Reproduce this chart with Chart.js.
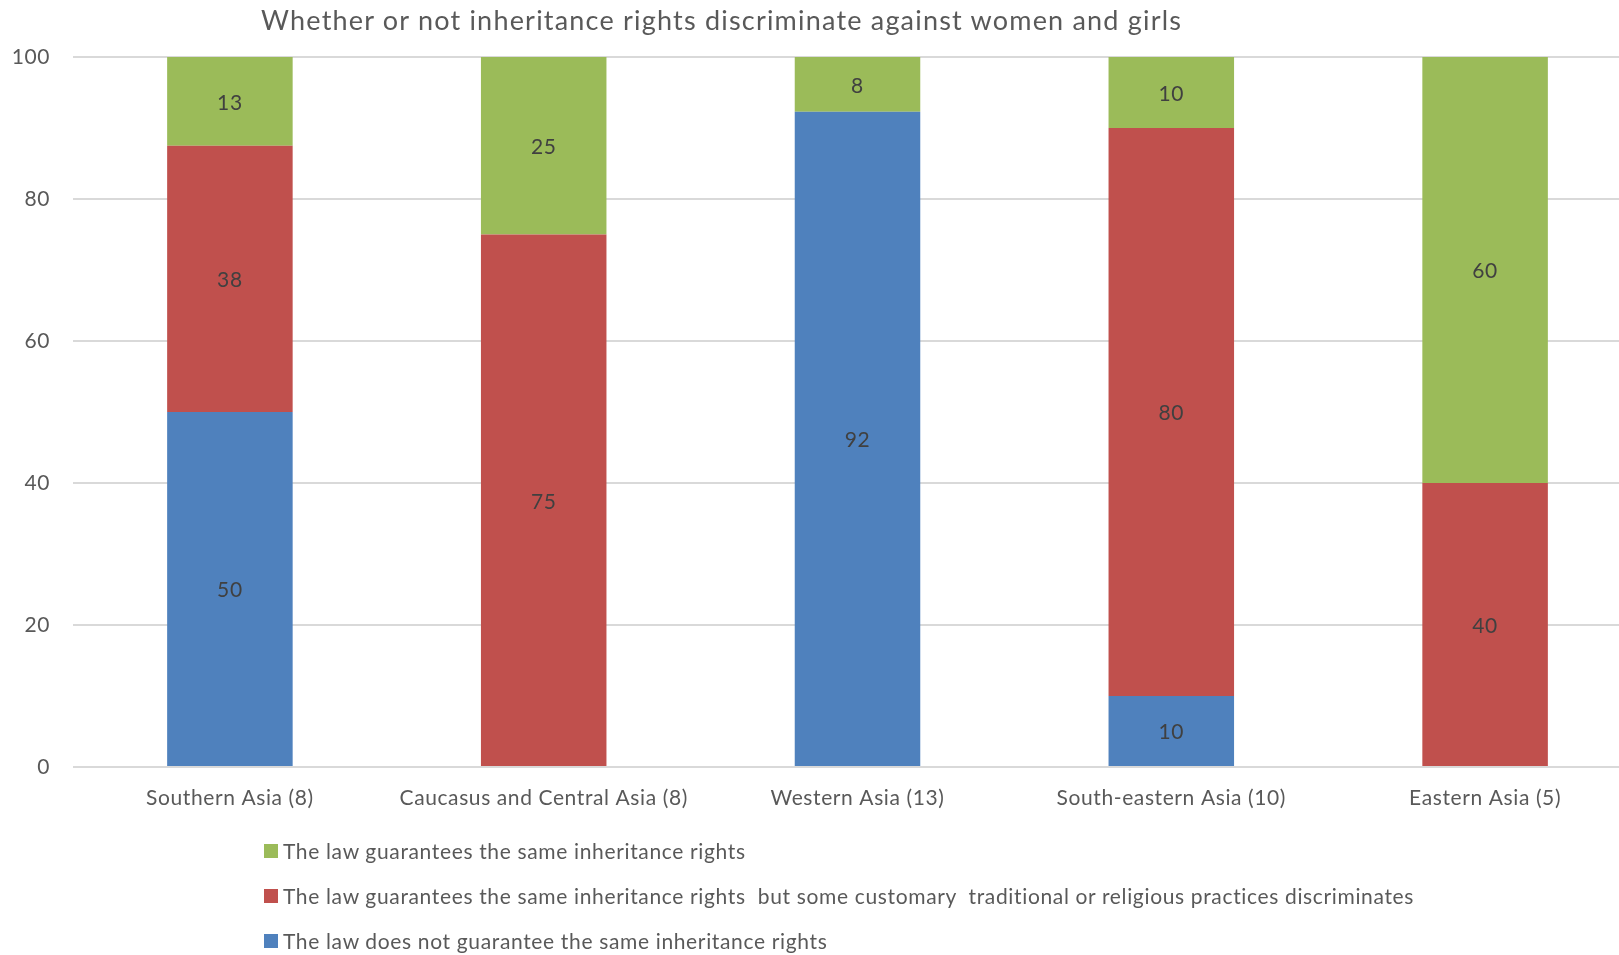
<!DOCTYPE html>
<html>
<head>
<meta charset="utf-8">
<script src="https://cdn.jsdelivr.net/npm/chart.js@4.4.0/dist/chart.umd.min.js"></script>
<style>
  html, body { margin: 0; padding: 0; overflow: hidden; background: #fff; }
  #wrap { position: relative; width: 1642px; height: 955px; }
  #title { position: absolute; left: 261px; top: 3px; line-height: 52px; font: 27px Lato; letter-spacing: 1.2px; color: #595959; white-space: nowrap; }
  #legend { position: absolute; left: 264px; top: 828px; font: 21px Lato; letter-spacing: 0.65px; color: #595959; }
  #legend .row { display: flex; align-items: center; height: 45px; white-space: pre; }
  #legend .box { width: 14px; height: 14px; margin-right: 5px; }
</style>
</head>
<body>
<div id="wrap">
  <canvas id="myChart" width="1642" height="955"></canvas>
  <div id="title">Whether or not inheritance rights discriminate against women and girls</div>
  <div id="legend"></div>
</div>
<script>
const categories = ['Southern Asia (8)', 'Caucasus and Central Asia (8)', 'Western Asia (13)', 'South-eastern Asia (10)', 'Eastern Asia (5)'];
const notGuaranteed = [50, 0, 92.3, 10, 0];
const guaranteedButPractices = [37.5, 75, 0, 80, 40];
const guaranteed = [12.5, 25, 7.7, 10, 60];
const yTicks = [0, 20, 40, 60, 80, 100];

const seriesNames = [
  'The law does not guarantee the same inheritance rights',
  'The law guarantees the same inheritance rights  but some customary  traditional or religious practices discriminates',
  'The law guarantees the same inheritance rights'
];
const seriesColors = ['#4F81BD', '#C0504D', '#9BBB59'];

// canvas width gets reset by chart.js, so set spacing again before drawing
const spacing = {
  id: 'spacing',
  beforeDraw(chart) {
    chart.ctx.letterSpacing = '0.6px';
  }
};

// value labels in the middle of each segment
const segmentLabels = {
  id: 'segmentLabels',
  afterDatasetsDraw(chart) {
    const ctx = chart.ctx;
    ctx.save();
    ctx.font = '21px Lato';
    ctx.fillStyle = '#404040';
    ctx.textAlign = 'center';
    ctx.textBaseline = 'middle';
    chart.data.datasets.forEach(function(ds, i) {
      chart.getDatasetMeta(i).data.forEach(function(bar, j) {
        const v = ds.data[j];
        if (!v) return;
        const p = bar.getProps(['x', 'y', 'base'], true);
        ctx.fillText(String(Math.round(v)), p.x, (p.y + p.base) / 2 + 1.5);
      });
    });
    ctx.restore();
  }
};

const ctx = document.getElementById('myChart').getContext('2d');
const chart = new Chart(ctx, {
  type: 'bar',
  data: {
    labels: categories,
    datasets: [notGuaranteed, guaranteedButPractices, guaranteed].map(function(d, i) {
      return {
        label: seriesNames[i],
        data: d,
        backgroundColor: seriesColors[i],
        borderWidth: 0,
        barPercentage: 0.4,
        categoryPercentage: 1
      };
    })
  },
  options: {
    responsive: false,
    animation: false,
    layout: { padding: { top: 57, left: 0, right: 0, bottom: 0 } },
    plugins: {
      legend: { display: false },
      title: { display: false },
      tooltip: { enabled: false }
    },
    scales: {
      x: {
        stacked: true,
        grid: { display: false, drawTicks: false },
        border: { display: false },
        ticks: { color: '#595959', font: { family: 'Lato', size: 21 }, padding: 19, maxRotation: 0 },
        afterFit: function(scale) { scale.height = 188; }
      },
      y: {
        stacked: true,
        min: 0,
        max: 100,
        afterBuildTicks: function(scale) { scale.ticks = yTicks.map(function(v) { return { value: v }; }); },
        grid: { color: '#d9d9d9', lineWidth: 2, drawTicks: false },
        border: { display: false },
        ticks: { color: '#595959', font: { family: 'Lato', size: 21 }, padding: 23 },
        afterFit: function(scale) { scale.width = 73; }
      }
    }
  },
  plugins: [spacing, segmentLabels]
});

// legend rows, top to bottom in reverse stacking order
const legend = document.getElementById('legend');
chart.data.datasets.slice().reverse().forEach(function(ds) {
  const row = document.createElement('div');
  row.className = 'row';
  const box = document.createElement('span');
  box.className = 'box';
  box.style.background = ds.backgroundColor;
  const txt = document.createElement('span');
  txt.textContent = ds.label;
  row.appendChild(box);
  row.appendChild(txt);
  legend.appendChild(row);
});
</script>
</body>
</html>
